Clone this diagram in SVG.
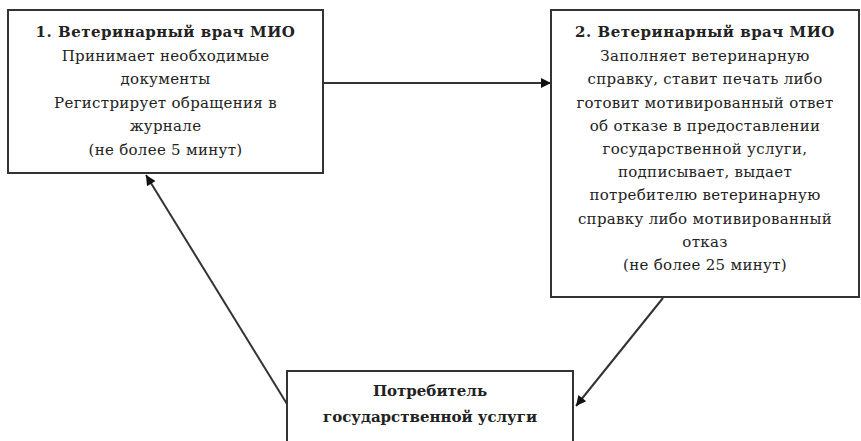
<svg xmlns="http://www.w3.org/2000/svg" width="861" height="441" viewBox="0 0 861 441">
<style>
.box{fill:#fff;stroke:#333;stroke-width:2}
.t{font-family:"DejaVu Serif","Liberation Serif",serif;font-size:15px;fill:#222;text-anchor:middle;letter-spacing:0.3px}
.b{font-weight:bold;letter-spacing:0.5px}
.n{letter-spacing:0}
.c{stroke:#333;stroke-width:2;fill:none;marker-end:url(#ah)}
</style>
<defs>
<marker id="ah" viewBox="0 0 10 10" refX="10" refY="5" markerWidth="12" markerHeight="10" markerUnits="userSpaceOnUse" orient="auto"><path d="M0,0L10,5L0,10z" fill="#111"/></marker>
</defs>
<rect width="861" height="441" fill="#fff"/>
<g id="connectors">
<line class="c" x1="323" y1="83" x2="551" y2="83"/>
<line class="c" x1="663" y1="298" x2="576" y2="406"/>
<line class="c" x1="287" y1="404" x2="146" y2="175"/>
</g>
<g id="node1">
<rect class="box" x="8" y="10" width="315" height="163"/>
<text class="t"><tspan class="b" x="165.5" y="37">1. Ветеринарный врач МИО</tspan><tspan x="165.5" y="61">Принимает необходимые</tspan><tspan x="165.5" y="84">документы</tspan><tspan x="165.5" y="108">Регистрирует обращения в</tspan><tspan x="165.5" y="131">журнале</tspan><tspan x="165.5" y="155">(не более 5 минут)</tspan></text>
</g>
<g id="node2">
<rect class="box" x="551" y="10" width="308" height="287"/>
<text class="t"><tspan class="b" x="705" y="37">2. Ветеринарный врач МИО</tspan><tspan x="705" y="61">Заполняет ветеринарную</tspan><tspan x="705" y="84">справку, ставит печать либо</tspan><tspan x="705" y="108">готовит мотивированный ответ</tspan><tspan x="705" y="131">об отказе в предоставлении</tspan><tspan x="705" y="154">государственной услуги,</tspan><tspan x="705" y="177">подписывает, выдает</tspan><tspan x="705" y="200">потребителю ветеринарную</tspan><tspan x="705" y="224">справку либо мотивированный</tspan><tspan x="705" y="247">отказ</tspan><tspan x="705" y="270">(не более 25 минут)</tspan></text>
</g>
<g id="node3">
<rect class="box" x="287" y="371" width="286" height="80"/>
<text class="t b n"><tspan x="430" y="396">Потребитель</tspan><tspan x="430" y="422">государственной услуги</tspan></text>
</g>
</svg>
